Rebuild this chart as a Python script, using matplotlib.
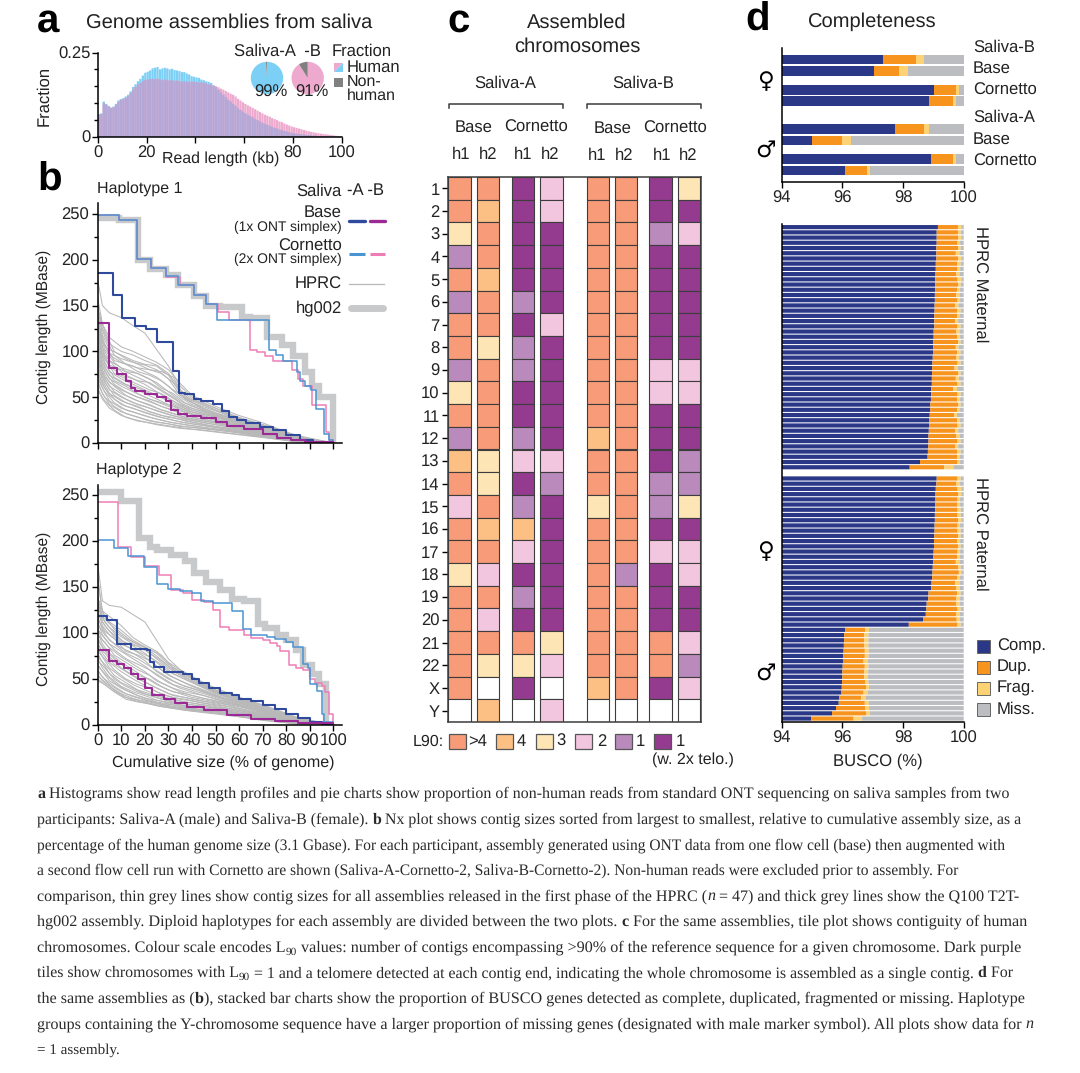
import re
import matplotlib
matplotlib.use('Agg')
import matplotlib.pyplot as plt
from matplotlib.patches import Polygon, Rectangle

plt.rcParams['font.family'] = ['Liberation Sans', 'DejaVu Sans']
plt.rcParams['font.size'] = 12
plt.rcParams['text.color'] = '#222222'
plt.rcParams['text.hinting'] = 'no_hinting'
plt.rcParams['axes.linewidth'] = 1.1
plt.rcParams['xtick.labelcolor'] = '#222222'
plt.rcParams['ytick.labelcolor'] = '#222222'

W, H = 1080, 1073

# ---------- panel a data ----------
read_bins = [i + 0.5 for i in range(100)]
saliva_a_hist = [
    .068, .070, .105, .098, .092, .087, .090, .098, .108, .112,
    .115, .120, .125, .135, .148, .156, .165, .172, .182, .190,
    .193, .197, .203, .205, .207, .200, .203, .205, .203, .200,
    .202, .198, .197, .195, .192, .192, .188, .185, .180, .178,
    .176, .175, .170, .168, .165, .163, .160, .152, .148, .140,
    .132, .125, .118, .110, .105, .098, .092, .085, .080, .075,
    .070, .066, .062, .058, .053, .050, .046, .042, .039, .036,
    .033, .030, .027, .025, .022, .020, .018, .016, .014, .012,
    .011, .010, .009, .008, .007, .006, .006, .005, .004, .004,
    .003, .003, .003, .002, .002, .002, .002, .001, .001, .001]
saliva_b_hist = [
    .062, .068, .100, .095, .090, .086, .088, .095, .104, .110,
    .112, .116, .122, .130, .140, .148, .155, .160, .165, .168,
    .170, .171, .172, .170, .172, .170, .168, .170, .168, .167,
    .168, .166, .167, .165, .163, .165, .163, .162, .164, .162,
    .163, .160, .162, .160, .158, .155, .155, .152, .150, .147,
    .143, .140, .136, .132, .128, .125, .120, .113, .108, .103,
    .098, .094, .090, .086, .082, .078, .074, .070, .066, .063,
    .060, .056, .053, .050, .046, .044, .040, .037, .034, .031,
    .029, .027, .025, .023, .021, .019, .017, .015, .014, .012,
    .011, .010, .009, .008, .007, .006, .005, .004, .003, .002]
pie_a = [99, 1]
pie_b = [91, 9]

# ---------- panel b data ----------
h1_hg002_x = [0, 9, 17, 22, 29, 34, 41, 46, 52, 61, 64.5, 72, 78, 83, 88, 91, 94, 100]
h1_hg002_y = [246, 243, 200, 190, 183, 172, 160, 150, 148, 138, 136, 116, 107, 95, 77, 62, 50, 0]
h1_corn_b_x = [0, 9, 16.8, 22.5, 29, 35, 41, 46, 51, 55.7, 64.6, 67.5, 71, 74.5, 82.3, 85, 87, 91, 97, 98, 100]
h1_corn_b_y = [249, 243, 201, 191, 181, 172, 162, 152, 143, 134, 102, 99, 95, 89, 80, 70, 62, 42, 12, 3, 0]
h1_corn_a_x = [0, 9, 16.8, 22.5, 29, 34, 41, 46, 50.5, 72.8, 75.7, 78.8, 84.4, 86, 88, 90.5, 92.6, 96, 98, 100]
h1_corn_a_y = [249, 243, 201, 191, 182, 172, 162, 152, 134, 102, 96, 90, 78, 68, 62, 58, 37, 10, 3, 0]
h1_base_a_x = [0, 6.5, 10.5, 16, 20.5, 25, 32, 34.5, 37, 41, 44, 49, 52.6, 55.7, 59, 63, 69, 74.5, 80, 86, 91.5, 100]
h1_base_a_y = [186, 162, 137, 128, 125, 110, 79, 55, 53, 48, 46, 43, 35, 28, 25, 22, 18, 14, 9, 3, 0.5, 0]
h1_base_b_x = [0, 5, 8, 12, 14, 16, 20, 25, 29, 31, 34, 38, 44, 50, 55, 62, 70, 76, 82, 88, 100]
h1_base_b_y = [131, 82, 75, 68, 60, 57, 54, 50, 46, 36, 32, 29, 27, 23, 19, 15, 10, 6, 3, 1, 0]

h2_hg002_x = [0, 10, 17.5, 22, 25, 31, 37, 41, 46, 52, 57, 62, 68, 71, 76, 80, 84, 87, 91, 94, 97]
h2_hg002_y = [253, 243, 203, 193, 190, 185, 178, 165, 155, 147, 137, 135, 110, 105, 98, 92, 82, 65, 55, 45, 0]
h2_corn_b_x = [0, 8.5, 14, 20, 26, 31, 36, 40, 45, 49, 52, 55.5, 62, 65, 70, 73, 76, 77.5, 81, 84, 87, 90, 92, 95, 96.5, 98, 100]
h2_corn_b_y = [242, 193, 183, 173, 163, 147, 144, 136, 134, 125, 107, 103, 98, 95, 92, 89, 86, 80, 65, 62, 60, 50, 46, 42, 36, 12, 0]
h2_corn_a_x = [0, 7, 13, 19.5, 25, 30, 35, 40, 44, 49, 57, 61.5, 65, 72, 75, 80, 83, 87, 89, 90, 93, 95, 96, 100]
h2_corn_a_y = [201, 192, 184, 172, 153, 148, 146, 143, 135, 133, 124, 104, 98, 96, 93, 90, 85, 66, 62, 45, 37, 12, 3, 0]
h2_base_a_x = [0, 4, 8, 14, 21, 22, 24, 28, 36, 40, 43, 47, 52, 57, 60, 65, 70, 75, 80, 85, 90, 95, 100]
h2_base_a_y = [118, 114, 88, 83, 81, 68, 63, 58, 55, 50, 46, 40, 35, 33, 28, 26, 22, 17, 12, 8, 3, 1, 0]
h2_base_b_x = [0, 5, 8, 11, 14, 17, 20, 23, 28, 33, 38, 45, 55, 65, 75, 85, 100]
h2_base_b_y = [81, 70, 66, 62, 55, 50, 40, 33, 28, 24, 20, 16, 11, 7, 4, 2, 0]

hprc_x = [0, 2, 5, 10, 15, 20, 25, 30, 35, 40, 50, 60, 70, 85, 100]
hprc_x2 = [0, 3, 7, 12, 17, 22, 27, 32, 37, 45, 55, 65, 75, 90, 100]
hprc_h1 = [
    [178, 150, 142, 137, 128, 120, 102, 84, 62, 50, 38, 27, 20, 8, 0],
    [158, 130, 115, 105, 100, 94, 88, 80, 65, 52, 40, 30, 22, 7, 0],
    [150, 125, 108, 100, 96, 90, 85, 76, 58, 48, 38, 28, 20, 6, 0],
    [148, 118, 102, 96, 90, 86, 84, 74, 56, 46, 36, 27, 19, 6, 0],
    [140, 110, 98, 92, 88, 85, 80, 70, 52, 44, 35, 26, 18, 5, 0],
    [135, 112, 96, 88, 84, 78, 72, 62, 50, 42, 33, 25, 17, 5, 0],
    [130, 105, 90, 82, 78, 72, 66, 56, 46, 40, 32, 24, 16, 5, 0],
    [126, 100, 85, 80, 74, 68, 60, 52, 44, 38, 30, 23, 15, 4, 0],
    [122, 96, 84, 74, 70, 64, 56, 48, 42, 36, 29, 22, 15, 4, 0],
    [118, 94, 78, 70, 64, 58, 52, 46, 40, 34, 28, 21, 14, 4, 0],
    [112, 88, 74, 66, 60, 54, 48, 42, 38, 32, 26, 20, 13, 3, 0],
    [108, 84, 70, 62, 56, 50, 45, 40, 35, 31, 25, 19, 12, 3, 0],
    [102, 80, 66, 58, 52, 47, 42, 37, 33, 28, 23, 18, 12, 3, 0],
    [96, 75, 62, 54, 48, 43, 38, 34, 30, 26, 22, 17, 11, 3, 0],
    [92, 72, 58, 50, 44, 40, 35, 31, 28, 25, 20, 16, 10, 2, 0],
    [86, 68, 54, 46, 41, 36, 32, 28, 26, 23, 18, 15, 10, 2, 0],
    [80, 64, 52, 42, 38, 33, 29, 26, 23, 21, 17, 13, 9, 2, 0],
    [74, 60, 46, 38, 34, 30, 26, 23, 21, 19, 15, 12, 8, 2, 0],
    [68, 54, 42, 34, 30, 26, 23, 21, 18, 17, 14, 11, 7, 1, 0],
    [60, 48, 38, 30, 26, 23, 20, 18, 16, 15, 12, 9, 6, 1, 0]]
hprc_h1_more = [
    [146, 122, 100, 92, 86, 80, 78, 72, 50, 42, 30, 23, 15, 2, 0],
    [138, 116, 96, 86, 82, 80, 76, 66, 48, 38, 28, 22, 14, 2, 0],
    [132, 108, 90, 86, 78, 74, 68, 58, 50, 36, 27, 20, 13, 2, 0],
    [128, 102, 88, 78, 76, 70, 60, 54, 44, 35, 26, 19, 12, 2, 0],
    [124, 96, 84, 74, 68, 66, 58, 50, 40, 34, 25, 18, 11, 2, 0],
    [116, 92, 76, 70, 64, 58, 54, 46, 38, 32, 24, 17, 11, 1, 0],
    [110, 86, 72, 64, 60, 54, 50, 42, 36, 30, 22, 16, 10, 1, 0],
    [104, 82, 68, 62, 54, 48, 44, 40, 34, 28, 21, 15, 10, 1, 0],
    [98, 78, 64, 56, 50, 46, 40, 36, 30, 26, 20, 14, 9, 1, 0],
    [94, 72, 62, 52, 46, 42, 36, 32, 28, 24, 19, 13, 8, 1, 0],
    [88, 70, 56, 48, 42, 38, 34, 30, 26, 22, 18, 12, 8, 1, 0],
    [82, 66, 52, 44, 40, 34, 30, 28, 24, 20, 16, 12, 7, 1, 0],
    [76, 60, 48, 40, 36, 32, 28, 25, 22, 19, 15, 11, 7, 1, 0],
    [70, 56, 44, 36, 32, 28, 25, 22, 20, 17, 14, 10, 6, 1, 0],
    [64, 50, 40, 32, 28, 24, 22, 20, 18, 16, 13, 9, 5, 1, 0],
    [58, 46, 36, 28, 24, 22, 20, 18, 16, 14, 11, 8, 5, 1, 0]]
hprc_h2 = [
    [175, 135, 130, 128, 120, 112, 92, 72, 60, 52, 40, 30, 22, 8, 0],
    [160, 124, 118, 108, 95, 87, 80, 68, 60, 53, 38, 30, 21, 7, 0],
    [158, 122, 112, 103, 92, 85, 78, 66, 58, 51, 37, 29, 21, 7, 0],
    [140, 118, 110, 100, 90, 84, 75, 64, 56, 50, 36, 28, 20, 7, 0],
    [135, 116, 106, 96, 88, 82, 72, 62, 54, 48, 35, 27, 19, 6, 0],
    [132, 112, 102, 92, 86, 78, 68, 58, 52, 46, 34, 26, 18, 6, 0],
    [125, 108, 98, 88, 82, 74, 64, 54, 48, 42, 32, 25, 17, 5, 0],
    [118, 104, 92, 84, 78, 70, 58, 50, 44, 40, 31, 24, 16, 5, 0],
    [112, 98, 88, 80, 72, 64, 54, 46, 40, 36, 28, 22, 15, 4, 0],
    [105, 92, 84, 74, 66, 58, 48, 42, 36, 32, 26, 21, 14, 4, 0],
    [100, 88, 78, 68, 60, 52, 44, 38, 34, 30, 25, 20, 13, 4, 0],
    [95, 84, 74, 62, 54, 47, 40, 34, 31, 28, 23, 18, 12, 3, 0],
    [90, 78, 68, 58, 50, 43, 36, 31, 28, 26, 21, 16, 11, 3, 0],
    [84, 74, 62, 52, 44, 38, 33, 29, 26, 24, 19, 14, 10, 3, 0],
    [78, 68, 56, 46, 40, 34, 30, 26, 24, 22, 18, 13, 9, 2, 0],
    [72, 62, 52, 42, 36, 32, 27, 24, 22, 20, 17, 12, 8, 2, 0],
    [66, 58, 48, 40, 34, 29, 25, 23, 20, 18, 15, 11, 7, 2, 0],
    [60, 52, 44, 36, 31, 27, 24, 21, 19, 17, 14, 10, 6, 1, 0],
    [55, 48, 42, 34, 29, 25, 22, 20, 18, 16, 13, 9, 6, 1, 0],
    [50, 46, 40, 32, 27, 24, 21, 19, 17, 15, 12, 9, 5, 1, 0]]
hprc_h2_more = [
    [138, 118, 104, 94, 88, 82, 76, 62, 56, 44, 32, 24, 14, 2, 0],
    [128, 112, 100, 88, 86, 78, 70, 60, 52, 42, 31, 23, 13, 2, 0],
    [122, 108, 96, 86, 80, 74, 66, 56, 50, 41, 30, 22, 13, 2, 0],
    [115, 102, 94, 80, 76, 70, 60, 52, 46, 38, 28, 21, 12, 2, 0],
    [110, 98, 88, 78, 72, 64, 56, 48, 42, 36, 27, 20, 11, 2, 0],
    [104, 94, 82, 72, 66, 60, 52, 44, 40, 34, 26, 19, 10, 1, 0],
    [98, 90, 76, 68, 60, 54, 46, 40, 36, 32, 25, 18, 10, 1, 0],
    [92, 82, 72, 62, 54, 50, 42, 36, 34, 29, 24, 17, 9, 1, 0],
    [86, 78, 66, 58, 50, 44, 38, 32, 30, 26, 22, 15, 8, 1, 0],
    [80, 72, 60, 50, 44, 40, 34, 30, 28, 24, 20, 14, 8, 1, 0],
    [74, 66, 54, 46, 38, 34, 30, 28, 25, 22, 18, 13, 7, 1, 0],
    [70, 62, 50, 42, 36, 32, 28, 26, 23, 20, 17, 12, 7, 1, 0],
    [64, 56, 46, 38, 32, 28, 26, 24, 21, 18, 15, 11, 6, 1, 0],
    [58, 50, 42, 34, 30, 26, 23, 22, 20, 16, 14, 10, 5, 1, 0],
    [53, 47, 38, 30, 27, 25, 22, 20, 18, 15, 13, 9, 5, 1, 0],
    [48, 44, 36, 28, 25, 23, 20, 18, 16, 14, 12, 8, 4, 1, 0]]

# ---------- panel c data ----------
# L90 class per chromosome: 5 means >4, 1 means L90 of 1, 0 means 1 with 2x telo, None is no tile
chroms = [str(i) for i in range(1, 23)] + ['X', 'Y']
a_base_h1 = [5, 5, 3, 1, 5, 1, 5, 5, 1, 3, 5, 1, 4, 5, 2, 5, 5, 3, 5, 5, 5, 5, 5, None]
a_base_h2 = [5, 4, 5, 5, 4, 5, 5, 3, 5, 5, 5, 5, 3, 3, 5, 4, 5, 2, 5, 2, 5, 3, None, 4]
a_corn_h1 = [0, 0, 0, 0, 0, 1, 0, 1, 1, 0, 0, 1, 2, 0, 1, 4, 2, 0, 1, 0, 5, 3, 0, None]
a_corn_h2 = [2, 2, 0, 0, 0, 0, 2, 0, 0, 0, 0, 0, 2, 1, 0, 0, 0, 0, 0, 0, 3, 2, None, 2]
b_base_h1 = [5, 5, 5, 5, 5, 5, 5, 5, 5, 5, 5, 4, 5, 5, 3, 5, 5, 5, 5, 5, 5, 5, 4, None]
b_base_h2 = [5, 5, 5, 5, 5, 5, 5, 5, 5, 5, 5, 5, 5, 5, 5, 5, 5, 1, 5, 5, 5, 5, 5, None]
b_corn_h1 = [0, 0, 1, 0, 0, 0, 0, 0, 2, 2, 0, 0, 0, 1, 1, 0, 2, 0, 0, 0, 5, 5, 0, None]
b_corn_h2 = [3, 0, 2, 0, 0, 0, 0, 0, 2, 2, 0, 0, 1, 1, 3, 0, 2, 2, 0, 0, 2, 1, 2, None]
tile_columns = [a_base_h1, a_base_h2, a_corn_h1, a_corn_h2, b_base_h1, b_base_h2, b_corn_h1, b_corn_h2]
tile_labels = ['>4', '4', '3', '2', '1', '1']
tile_classes = [5, 4, 3, 2, 1, 0]

# ---------- panel d data ----------
top_comp = [97.33, 97.03, 99.03, 98.87, 97.75, 95.00, 98.93, 96.08]
top_dup_end = [98.42, 97.88, 99.75, 99.65, 98.68, 96.00, 99.65, 96.80]
top_frag_end = [98.70, 98.16, 99.83, 99.74, 98.87, 96.27, 99.73, 96.90]

mat_comp = [
    99.15, 99.11, 99.11, 99.11, 99.10, 99.10, 99.10, 99.08, 99.08, 99.07,
    99.06, 99.06, 99.06, 99.05, 99.05, 99.04, 99.04, 99.03, 99.03, 99.03,
    99.01, 99.01, 99.00, 99.00, 99.00, 98.98, 98.97, 98.96, 98.96, 98.95,
    98.95, 98.93, 98.93, 98.92, 98.90, 98.90, 98.88, 98.87, 98.86, 98.85,
    98.84, 98.84, 98.83, 98.82, 98.81, 98.56, 98.22]
mat_dup_end = [
    99.81, 99.81, 99.82, 99.80, 99.82, 99.74, 99.82, 99.78, 99.80, 99.76,
    99.80, 99.82, 99.78, 99.76, 99.80, 99.72, 99.78, 99.78, 99.72, 99.80,
    99.76, 99.78, 99.82, 99.74, 99.78, 99.76, 99.80, 99.70, 99.82, 99.74,
    99.80, 99.66, 99.80, 99.78, 99.82, 99.79, 99.68, 99.78, 99.80, 99.72,
    99.76, 99.80, 99.72, 99.78, 99.78, 99.80, 99.36]
mat_frag_end = [
    99.92, 99.90, 99.92, 99.88, 99.90, 99.86, 99.92, 99.90, 99.88, 99.86,
    99.92, 99.90, 99.88, 99.86, 99.88, 99.83, 99.90, 99.88, 99.82, 99.90,
    99.86, 99.88, 99.90, 99.83, 99.90, 99.85, 99.90, 99.80, 99.90, 99.84,
    99.90, 99.78, 99.90, 99.88, 99.90, 99.88, 99.78, 99.88, 99.90, 99.82,
    99.87, 99.90, 99.82, 99.90, 99.88, 99.88, 99.66]
pat_comp = [
    99.11, 99.10, 99.08, 99.07, 99.07, 99.06, 99.06, 99.05, 99.05, 99.04,
    99.04, 99.03, 99.02, 99.02, 99.01, 99.00, 98.99, 98.98, 98.97, 98.96,
    98.94, 98.93, 98.84, 98.83, 98.78, 98.77, 98.75, 98.66, 98.19,
    96.10, 96.06, 96.06, 96.05, 96.04, 96.03, 96.02, 96.01, 96.00, 96.00,
    95.99, 95.98, 95.97, 95.90, 95.88, 95.79, 95.66, 94.97]
pat_dup_end = [
    99.80, 99.76, 99.80, 99.82, 99.80, 99.78, 99.80, 99.80, 99.82, 99.80,
    99.80, 99.82, 99.78, 99.82, 99.80, 99.78, 99.74, 99.82, 99.84, 99.78,
    99.72, 99.76, 99.78, 99.76, 99.76, 99.80, 99.76, 99.77, 99.80,
    96.76, 96.72, 96.72, 96.72, 96.74, 96.74, 96.70, 96.74, 96.72, 96.72,
    96.76, 96.78, 96.70, 96.62, 96.74, 96.76, 96.78, 96.37]
pat_frag_end = [
    99.90, 99.88, 99.92, 99.92, 99.88, 99.88, 99.90, 99.90, 99.92, 99.88,
    99.90, 99.90, 99.88, 99.90, 99.88, 99.88, 99.86, 99.90, 99.92, 99.88,
    99.86, 99.87, 99.90, 99.88, 99.88, 99.90, 99.87, 99.88, 99.90,
    96.88, 96.86, 96.86, 96.86, 96.87, 96.86, 96.84, 96.86, 96.85, 96.84,
    96.86, 96.88, 96.83, 96.76, 96.87, 96.88, 96.90, 96.65]

# ---------- caption ----------
caption_lines = [
    "*a* Histograms show read length profiles and pie charts show proportion of non-human reads from standard ONT sequencing on saliva samples from two",
    "participants: Saliva-A (male) and Saliva-B (female). *b* Nx plot shows contig sizes sorted from largest to smallest, relative to cumulative assembly size, as a",
    "percentage of the human genome size (3.1 Gbase). For each participant, assembly generated using ONT data from one flow cell (base) then augmented with",
    "a second flow cell run with Cornetto are shown (Saliva-A-Cornetto-2, Saliva-B-Cornetto-2). Non-human reads were excluded prior to assembly. For",
    "comparison, thin grey lines show contig sizes for all assemblies released in the first phase of the HPRC (_n_ = 47) and thick grey lines show the Q100 T2T-",
    "hg002 assembly. Diploid haplotypes for each assembly are divided between the two plots. *c* For the same assemblies, tile plot shows contiguity of human",
    "chromosomes. Colour scale encodes L~90~ values: number of contigs encompassing >90% of the reference sequence for a given chromosome. Dark purple",
    "tiles show chromosomes with L~90~ = 1 and a telomere detected at each contig end, indicating the whole chromosome is assembled as a single contig. *d* For",
    "the same assemblies as (*b*), stacked bar charts show the proportion of BUSCO genes detected as complete, duplicated, fragmented or missing. Haplotype",
    "groups containing the Y-chromosome sequence have a larger proportion of missing genes (designated with male marker symbol). All plots show data for _n_",
    "= 1 assembly."]
caption_right = [1012, 1024, 1008, 960, 1020, 1027, 1023, 1005, 1030, 1036, 120]

# ---------- colours ----------
BLUE_H, PINK_H, BOTH_H = '#7dd0f5', '#eeaace', '#b5a7d6'
BASE_A, BASE_B = '#2f4a9d', '#9b2a96'
CORN_A, CORN_B = '#4a94d2', '#ef7db5'
HPRC, HG002 = '#b8b8b8', '#c8c9ca'
TILE = {5: '#f79b79', 4: '#fcc085', 3: '#fde5b6', 2: '#f3c6df', 1: '#b98abb', 0: '#943b90', None: 'white'}
TILE_EDGE = '#3d3d3d'
COMP, DUP, FRAG, MISS = '#2b3787', '#f7941d', '#fdd274', '#bbbdc0'


def px_axes(left, top, right, bottom):
    return fig.add_axes([left / W, 1 - bottom / H, (right - left) / W, (bottom - top) / H])


def stacked_busco(ax, rows, comp, dup_end, frag_end, height, **kw):
    # the complete bar starts at zero and the axis clips it at 94
    dup = [e - c for e, c in zip(dup_end, comp)]
    frag = [e - d for e, d in zip(frag_end, dup_end)]
    miss = [100 - e for e in frag_end]
    ax.barh(rows, comp, height=height, color=COMP, **kw)
    ax.barh(rows, dup, left=comp, height=height, color=DUP, **kw)
    ax.barh(rows, frag, left=dup_end, height=height, color=FRAG, **kw)
    ax.barh(rows, miss, left=frag_end, height=height, color=MISS, **kw)
    ax.set_xlim(94, 100)
    ax.set_xticks([94, 96, 98, 100])
    ax.set_yticks([])
    ax.tick_params(length=4, width=1, pad=2)
    for s in ('top', 'right'):
        ax.spines[s].set_visible(False)


fig = plt.figure(figsize=(W / 100, H / 100), dpi=100)

# overlay in pixel coordinates for labels, legends and the caption
ov = fig.add_axes([0, 0, 1, 1], zorder=10)
ov.set_xlim(0, W)
ov.set_ylim(H, 0)
ov.axis('off')


def label(x, y, s, size=12, ha='left', va='center', **kw):
    return ov.text(x, y, s, fontsize=size, ha=ha, va=va, **kw)


# ---------- a ----------
ax = px_axes(97.7, 52.5, 341.7, 137)
overlap = [min(p) for p in zip(saliva_a_hist, saliva_b_hist)]
ax.bar(read_bins, saliva_a_hist, width=0.92, color=BLUE_H, linewidth=0, snap=False)
ax.bar(read_bins, saliva_b_hist, width=0.92, color=PINK_H, linewidth=0, snap=False)
ax.bar(read_bins, overlap, width=0.92, color=BOTH_H, linewidth=0, snap=False)
ax.set_xlim(0, 100)
ax.set_ylim(0, 0.25)
ax.set_xticks([0, 20, 40, 60, 80, 100], ['0', '20', '', '', '80', '100'])
ax.set_yticks([0, 0.25], ['0', '0.25'])
ax.set_yticks([0.05, 0.1, 0.15, 0.2], minor=True)
ax.tick_params(length=4, width=1, pad=2)
ax.tick_params(which='minor', length=3, width=1)
ax.tick_params(axis='y', pad=1)
for s in ('top', 'right'):
    ax.spines[s].set_visible(False)

for cx, vals, colr in ((267, pie_a, BLUE_H), (307.7, pie_b, PINK_H)):
    pa = px_axes(cx - 17, 61, cx + 17, 95)
    pa.pie(vals, colors=[colr, '#808080'], startangle=90, counterclock=False, radius=1)
    pa.set_xlim(-1.05, 1.05)
    pa.set_ylim(-1.05, 1.05)

label(37, 21, 'a', size=29, weight='bold', color='black')
label(86, 23, 'Genome assemblies from saliva', size=14.5)
label(44, 96, 'Fraction', rotation=90, ha='center')
label(221, 159, 'Read length (kb)', size=11.4, ha='center')
label(234, 51, 'Saliva-A  -B')
label(332, 51, 'Fraction')
label(271, 92, '99%', ha='center')
label(312, 92, '91%', ha='center')
ov.add_patch(Polygon([(334, 63), (343, 63), (334, 72)], color=PINK_H, lw=0))
ov.add_patch(Polygon([(343, 63), (343, 72), (334, 72)], color=BLUE_H, lw=0))
ov.add_patch(Rectangle((334, 78), 9, 9, color='#808080', lw=0))
label(347, 67, 'Human')
label(347, 82, 'Non-', size=11.5)
label(347, 95.5, 'human', size=11.5)

# ---------- b ----------
b_panels = [
    (203, 443, 214, hprc_h1, hprc_h1_more,
     (h1_hg002_x, h1_hg002_y), (h1_base_a_x, h1_base_a_y), (h1_base_b_x, h1_base_b_y),
     (h1_corn_a_x, h1_corn_a_y), (h1_corn_b_x, h1_corn_b_y)),
    (485, 725, 495, hprc_h2, hprc_h2_more,
     (h2_hg002_x, h2_hg002_y), (h2_base_a_x, h2_base_a_y), (h2_base_b_x, h2_base_b_y),
     (h2_corn_a_x, h2_corn_a_y), (h2_corn_b_x, h2_corn_b_y))]
for n, (top, bot, y250, grey, grey2, hg, ba, bb, ca, cb) in enumerate(b_panels):
    ax = px_axes(97.7, top, 341.7, bot)
    ax.set_xlim(0, 103.5)
    ax.set_ylim(0, 250 * (bot - top) / (bot - y250))
    for row in grey:
        ax.plot(hprc_x, row, color=HPRC, lw=0.75)
    for row in grey2:
        ax.plot(hprc_x2, row, color=HPRC, lw=0.75)
    ax.plot(hg[0], hg[1], drawstyle='steps-post', color=HG002, lw=4.6, solid_joinstyle='miter', solid_capstyle='butt')
    ax.plot(cb[0], cb[1], drawstyle='steps-post', color=CORN_B, lw=1.1)
    ax.plot(ca[0], ca[1], drawstyle='steps-post', color=CORN_A, lw=1.1)
    ax.plot(ba[0], ba[1], drawstyle='steps-post', color=BASE_A, lw=1.5)
    ax.plot(bb[0], bb[1], drawstyle='steps-post', color=BASE_B, lw=1.5)
    ax.set_xticks(range(0, 101, 10))
    if n == 0:
        ax.set_xticklabels([])
    ax.set_yticks(range(0, 251, 50))
    ax.set_yticks(range(25, 250, 50), minor=True)
    ax.tick_params(length=4, width=1, pad=2)
    ax.tick_params(which='minor', length=3, width=1)
    for s in ('top', 'right'):
        ax.spines[s].set_visible(False)

label(37, 180, 'b', size=29, weight='bold', color='black')
label(97, 189, 'Haplotype 1', size=11.5)
label(96, 470, 'Haplotype 2', size=11.5)
label(44, 327, 'Contig length (MBase)', size=11.2, rotation=90, ha='center')
label(44, 609, 'Contig length (MBase)', size=11.2, rotation=90, ha='center')
label(223, 763, 'Cumulative size (% of genome)', size=11.5, ha='center')
label(342, 191, 'Saliva', ha='right')
label(347, 191, '-A -B')
label(342, 212, 'Base', ha='right')
label(342, 227, '(1x ONT simplex)', size=10, ha='right')
label(342, 246, 'Cornetto', ha='right')
label(342, 259, '(2x ONT simplex)', size=10, ha='right')
label(342, 284, 'HPRC', ha='right')
label(342, 308, 'hg002', ha='right')
ov.plot([349, 365], [220.5, 220.5], color=BASE_A, lw=2.4, solid_capstyle='round')
ov.plot([370, 385], [220.5, 220.5], color=BASE_B, lw=2.4, solid_capstyle='round')
ov.plot([349, 365], [254, 254], color=CORN_A, lw=2.2, solid_capstyle='butt')
ov.plot([370, 385], [254, 254], color=CORN_B, lw=2.2, solid_capstyle='butt')
ov.plot([349, 384], [284, 284], color=HPRC, lw=0.9)
ov.plot([351, 383], [308, 308], color=HG002, lw=5, solid_capstyle='round')

# ---------- c ----------
col_left = [448.5, 476.7, 511.7, 540, 586.7, 614.7, 649.3, 677.7]
col_width = 22.7
ax = px_axes(448, 177, 701, 722)
for left, col in zip(col_left, tile_columns):
    for r, val in enumerate(col):
        ax.bar(left, 1, bottom=r, width=col_width, align='edge', color=TILE[val], edgecolor=TILE_EDGE, linewidth=0.8)
ax.set_xlim(448, 701)
ax.set_ylim(len(chroms), 0)
ax.set_xticks([])
ax.set_yticks([i + 0.5 for i in range(len(chroms))], chroms)
ax.tick_params(axis='y', length=4, width=1, pad=2)
for s in ax.spines.values():
    s.set_color(TILE_EDGE)

label(447, 21, 'c', size=29, weight='bold', color='black')
label(577, 23, 'Assembled', size=14.5, ha='center')
label(577, 47, 'chromosomes', size=14.5, ha='center')
label(505.7, 83, 'Saliva-A', ha='center')
label(643, 83, 'Saliva-B', ha='center')
for x0, x1 in ((448.5, 563), (587, 701)):
    ov.plot([x0, x0, x1, x1], [108, 103.5, 103.5, 108], color='#3a3a3a', lw=1.1)
for x, y, s in ((473.7, 127, 'Base'), (536, 127, 'Cornetto'), (613, 128, 'Base'), (675, 128, 'Cornetto')):
    label(x, y, s, ha='center')
for x, y, s in ((460.7, 155, 'h1'), (487.7, 155, 'h2'), (523, 155, 'h1'), (550, 155, 'h2'),
                (597, 156, 'h1'), (624, 156, 'h2'), (661.7, 156, 'h1'), (688, 156, 'h2')):
    label(x, y, s, ha='center')
label(413, 741.5, 'L90:', size=11.5)
for sx, tx, cl, s in zip((449, 496, 536, 575, 615, 654), (468, 517, 556, 597, 636, 676), tile_classes, tile_labels):
    ov.add_patch(Rectangle((sx, 734), 17, 15, facecolor=TILE[cl], edgecolor='#555555', lw=0.9))
    label(tx, 741.5, s)
label(652, 760, '(w. 2x telo.)', size=11.5)

# ---------- d ----------
top_rows = [59.7, 71, 90, 101, 129, 140.5, 159, 170.3]
ax = px_axes(781.7, 48, 963.7, 181.7)
stacked_busco(ax, top_rows, top_comp, top_dup_end, top_frag_end, 9.4)
ax.set_ylim(181.7, 48)

low_rows = list(range(47)) + [47 + 1.15 + i for i in range(47)]
ax = px_axes(781.7, 224, 963.7, 721.7)
stacked_busco(ax, low_rows, mat_comp + pat_comp, mat_dup_end + pat_dup_end, mat_frag_end + pat_frag_end, 0.8,
              snap=False, linewidth=0)
ax.set_ylim(94.75, -0.6)

label(745, 20, 'd', size=29, weight='bold', color='black')
label(808, 22, 'Completeness', size=14.5)
for y, s in ((47, 'Saliva-B'), (68, 'Base'), (90, 'Cornetto'), (117.5, 'Saliva-A'), (139, 'Base'), (161, 'Cornetto')):
    label(973, y, s)
for y, s in ((82, '\u2640'), (150, '\u2642'), (552, '\u2640'), (673, '\u2642')):
    label(765, y, s, size=16.5, ha='center', family='DejaVu Sans', weight='bold', color='black')
label(981, 284, 'HPRC Maternal', rotation=-90, ha='center')
label(981, 534, 'HPRC Paternal', rotation=-90, ha='center')
label(878, 761, 'BUSCO (%)', ha='center')
for y, c, s in ((640, COMP, 'Comp.'), (661, DUP, 'Dup.'), (682, FRAG, 'Frag.'), (703, MISS, 'Miss.')):
    ov.add_patch(Rectangle((977, y), 13, 13, facecolor=c, edgecolor='#666666', lw=0.7))
    label(997, y + 6.5, s)

# ---------- caption text, each line fitted to its width ----------
renderer = fig.canvas.get_renderer()
STYLES = {'*': dict(weight='bold'), '_': dict(style='italic'), '~': dict()}


def run_pieces(line):
    pieces = []
    for tok in re.split(r'(\*.+?\*|_.+?_|~.+?~)', line):
        if tok:
            mark = tok[0] if tok[0] in STYLES and len(tok) > 2 else ''
            pieces.append((tok[1:-1], mark) if mark else (tok, ''))
    return pieces


def text_width(s, size, mark):
    sc = 0.7 if mark == '~' else 1
    kw = STYLES.get(mark, {})
    t1 = ov.text(0, 0, s + '.', fontsize=size * sc, family='Liberation Serif', **kw)
    t2 = ov.text(0, 0, '.', fontsize=size * sc, family='Liberation Serif', **kw)
    w = t1.get_window_extent(renderer).width - t2.get_window_extent(renderer).width
    t1.remove()
    t2.remove()
    return w


for i, (line, right) in enumerate(zip(caption_lines, caption_right)):
    y = 798 + i * 25.6
    pieces = run_pieces(line)
    size = 11
    for _ in range(3):
        total = sum(text_width(s, size, m) for s, m in pieces)
        size = size * (right - 37) / total
    x = 37
    for s, m in pieces:
        sc = 0.7 if m == '~' else 1
        dy = 3 if m == '~' else 0
        ov.text(x, y + dy, s, fontsize=size * sc, family='Liberation Serif', color='#2a2a2a',
                ha='left', va='baseline', **STYLES.get(m, {}))
        x += text_width(s, size, m)

fig.savefig('out.png', dpi=100)
